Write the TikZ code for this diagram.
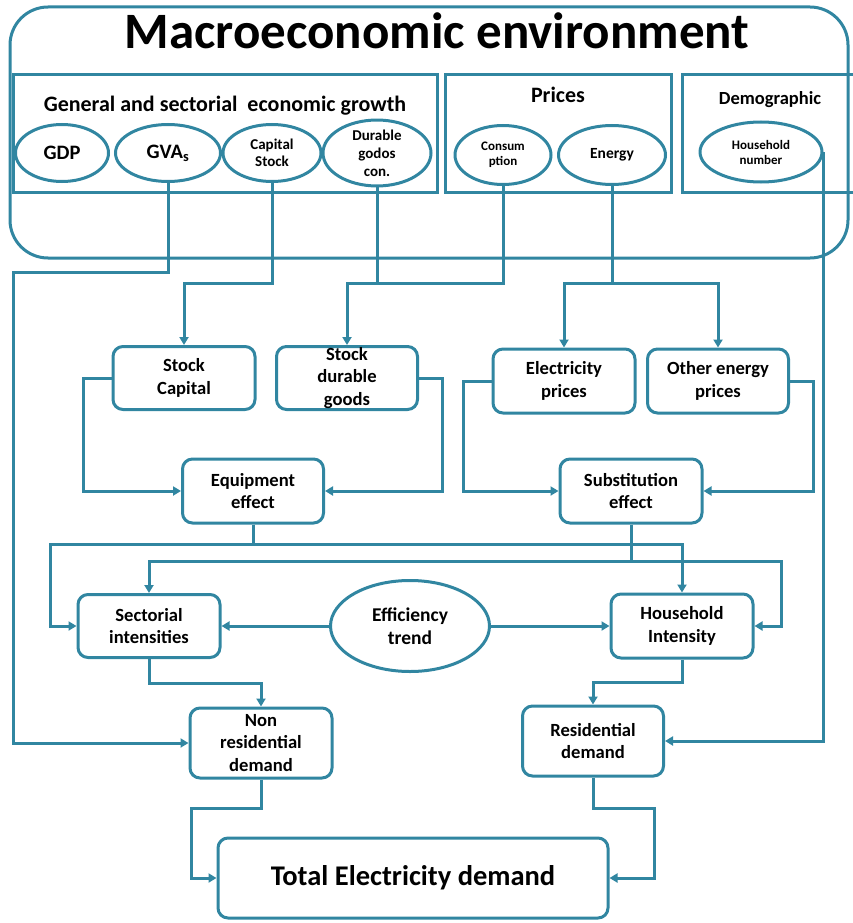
\documentclass[tikz,border=0pt]{standalone}
\usepackage{fontspec}
\setmainfont{Carlito}
\usetikzlibrary{shapes.geometric,arrows.meta}
\definecolor{tealc}{RGB}{49,134,161}
\tikzset{
  line/.style={draw=tealc, line width=3pt},
  arr/.style={line, -{Triangle[length=8pt,width=9pt]}},
  box/.style={draw=tealc, line width=3pt, rounded corners=10pt, fill=white, align=center,
    inner sep=0pt, font=\bfseries\fontsize{18.6}{22.5}\selectfont},
  oval/.style={ellipse, draw=tealc, line width=3pt, fill=white, align=center, inner sep=0pt},
  lbl/.style={inner sep=0pt, align=center},
}
\begin{document}
\begin{tikzpicture}[x=1pt,y=-1pt]
\useasboundingbox (0,0) rectangle (853,923);
% outer environment
\draw[line, rounded corners=38pt] (10,7) rectangle (848,258);
\node[lbl, font=\bfseries\fontsize{51}{53}\selectfont] (title) at (437,31) {Macroeconomic environment};
% group boxes
\draw[line] (13,75) rectangle (437,192);
\node[lbl, font=\bfseries\fontsize{22}{24}\selectfont] (g1) at (225,106) {General and sectorial\ \ economic growth};
\draw[line] (445,75) rectangle (671,192);
\node[lbl, font=\bfseries\fontsize{22}{24}\selectfont] (g2) at (558,95) {Prices};
\draw[line] (853,75) -- (682,75) -- (682,192) -- (853,192);
\node[lbl, font=\bfseries\fontsize{18.5}{22}\selectfont] (g3) at (770,100) {Demographic};
% ellipses
\node[oval, minimum width=93pt, minimum height=57pt, font=\bfseries\fontsize{20.5}{22}\selectfont] (gdp) at (62,153) {GDP};
\node[oval, minimum width=105pt, minimum height=57pt, font=\bfseries\fontsize{20.5}{22}\selectfont] (gvas) at (168,153) {GVA\textsubscript{s}};
\node[oval, minimum width=98pt, minimum height=57pt, font=\bfseries\fontsize{15}{17.5}\selectfont] (cs) at (272,153) {Capital\\Stock};
\node[oval, minimum width=108pt, minimum height=58pt, font=\bfseries\fontsize{15}{18}\selectfont] (dg) at (377,153) {Durable\\godos\\con.};
\node[oval, minimum width=96pt, minimum height=59pt, font=\bfseries\fontsize{13}{15}\selectfont] (cons) at (503,155) {Consum\\ption};
\node[oval, minimum width=107pt, minimum height=59pt, font=\bfseries\fontsize{15.5}{18}\selectfont] (en) at (612,155) {Energy};
\node[oval, minimum width=122pt, minimum height=60pt, font=\bfseries\fontsize{13}{15}\selectfont] (hh) at (761,152) {Household\\number};
% boxes
\node[box, minimum width=142pt, minimum height=63pt] (sc) at (184,378) {Stock\\Capital};
\node[box, minimum width=141pt, minimum height=63pt] (sdg) at (347,378) {Stock\\durable\\goods};
\node[box, minimum width=142pt, minimum height=64pt] (ep) at (564,381) {Electricity\\prices};
\node[box, minimum width=141pt, minimum height=64pt] (oep) at (718,381) {Other energy\\prices};
\node[box, minimum width=141pt, minimum height=64pt] (ee) at (253,491) {Equipment\\effect};
\node[box, minimum width=142pt, minimum height=64pt] (se) at (631,491) {Substitution\\effect};
\node[box, minimum width=142pt, minimum height=63pt] (si) at (149,626) {Sectorial\\intensities};
\node[box, minimum width=142pt, minimum height=64pt] (hi) at (682,626) {Household\\Intensity};
\node[oval, minimum width=159pt, minimum height=91pt, font=\bfseries\fontsize{19.5}{23}\selectfont] (eff) at (410,626) {Efficiency\\trend};
\node[box, minimum width=142pt, minimum height=70pt] (nrd) at (261,743) {Non\\residential\\demand};
\node[box, minimum width=141pt, minimum height=70pt] (rd) at (593,741) {Residential\\demand};
\node[box, minimum width=390pt, minimum height=80pt, font=\bfseries\fontsize{28.5}{32}\selectfont] (tot) at (413,878) {Total Electricity demand};
% connectors from the environment
\draw[arr] (gvas.south) |- (13,272) |- (nrd.west);
\draw[arr] (cs.south) |- (sc.north |- 0,283) -- (sc.north);
\draw[arr] (dg.south) |- (sdg.north |- 0,283) -- (sdg.north);
\draw[line] (cons.south) |- (sdg.north |- 0,283);
\draw[arr] (en.south) |- (ep.north |- 0,283) -- (ep.north);
\draw[arr] (en.south) |- (oep.north |- 0,283) -- (oep.north);
\draw[arr] (hh.east) |- (rd.east);
% effects
\draw[arr] (sc.west) -- ++(-28,0) |- (ee.west);
\draw[arr] (sdg.east) -- ++(23,0) |- (ee.east);
\draw[arr] (ep.west) -- ++(-28,0) |- (se.west);
\draw[arr] (oep.east) -- ++(23,0) |- (se.east);
% intensities
\draw[arr] (ee.south) |- (50,544) |- (si.west);
\draw[arr] (ee.south) |- (hi.north |- 0,544) -- (hi.north);
\draw[arr] (se.south) |- (si.north |- 0,561) -- (si.north);
\draw[arr] (se.south) |- (781,561) |- (hi.east);
\draw[arr] (eff.west) -- (si.east);
\draw[arr] (eff.east) -- (hi.west);
% demands
\draw[arr] (si.south) |- (nrd.north |- 0,683) -- (nrd.north);
\draw[arr] (hi.south) |- (rd.north |- 0,682) -- (rd.north);
\draw[arr] (nrd.south) |- (191,808) |- (tot.west);
\draw[arr] (rd.south) |- (654,808) |- (tot.east);
\end{tikzpicture}
\end{document}
